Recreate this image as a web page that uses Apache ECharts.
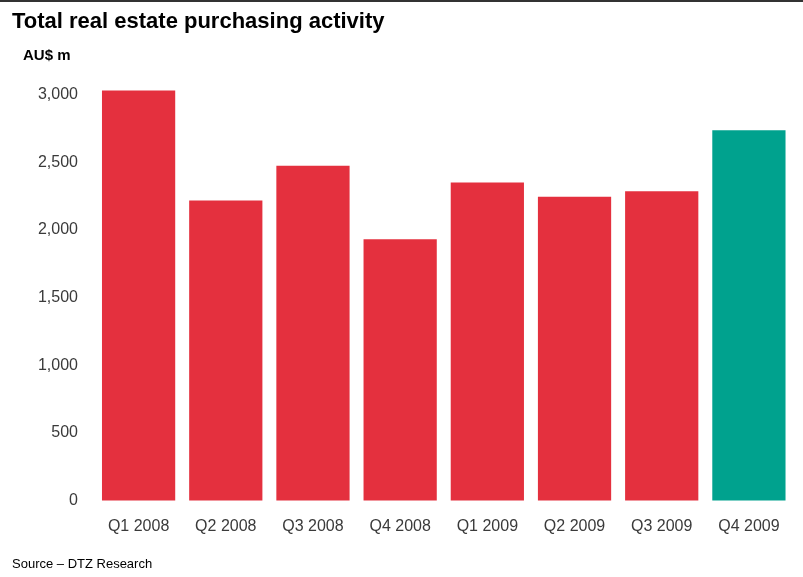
<!DOCTYPE html>
<html>
<head>
<meta charset="utf-8">
<script src="https://cdn.jsdelivr.net/npm/echarts@6/dist/echarts.min.js"></script>
<style>
html,body{margin:0;padding:0;background:#fff;}
#chart{width:803px;height:577px;}
</style>
</head>
<body>
<div id="chart"></div>
<script>
var categories = ["Q1 2008","Q2 2008","Q3 2008","Q4 2008","Q1 2009","Q2 2009","Q3 2009","Q4 2009"];
var values = [3030, 2216, 2474, 1931, 2349, 2245, 2285, 2736];
var barColors = ["#E4303E","#E4303E","#E4303E","#E4303E","#E4303E","#E4303E","#E4303E","#00A28E"];
var titleText = "Total real estate purchasing activity";
var unitText = "AU$ m";
var sourceText = "Source \u2013 DTZ Research";

var chart = echarts.init(document.getElementById('chart'), null, {renderer:'canvas'});
var font = "'Liberation Sans', Arial, Helvetica, sans-serif";
chart.setOption({
  animation: false,
  backgroundColor: '#fff',
  grid: {left: 95, right: 10.5, top: 94.5, bottom: 76.5, containLabel: false},
  xAxis: {
    type: 'category',
    data: categories,
    axisLine: {show: false},
    axisTick: {show: false},
    axisLabel: {color: '#3a3a3a', fontFamily: font, fontSize: 16, margin: 18}
  },
  yAxis: {
    type: 'value',
    min: 0, max: 3000, interval: 500,
    splitLine: {show: false},
    axisLine: {show: false},
    axisTick: {show: false},
    axisLabel: {
      color: '#3a3a3a', fontFamily: font, fontSize: 16, margin: 17,
      formatter: function(v){ return v.toLocaleString('en-US'); }
    }
  },
  series: [{
    type: 'bar',
    clip: false,
    barCategoryGap: '16%',
    data: values.map(function(v, i){ return {value: v, itemStyle: {color: barColors[i]}}; })
  }],
  graphic: [
    {type: 'rect', left: 0, top: 0, shape: {width: 803, height: 2}, style: {fill: '#333'}},
    {type: 'text', left: 12, top: 11, style: {text: titleText, font: 'bold 22px ' + font, fill: '#000'}},
    {type: 'text', left: 23, top: 48, style: {text: unitText, font: 'bold 15px ' + font, fill: '#000'}},
    {type: 'text', left: 12, top: 558, style: {text: sourceText, font: '13px ' + font, fill: '#000'}}
  ]
});
</script>
</body>
</html>
